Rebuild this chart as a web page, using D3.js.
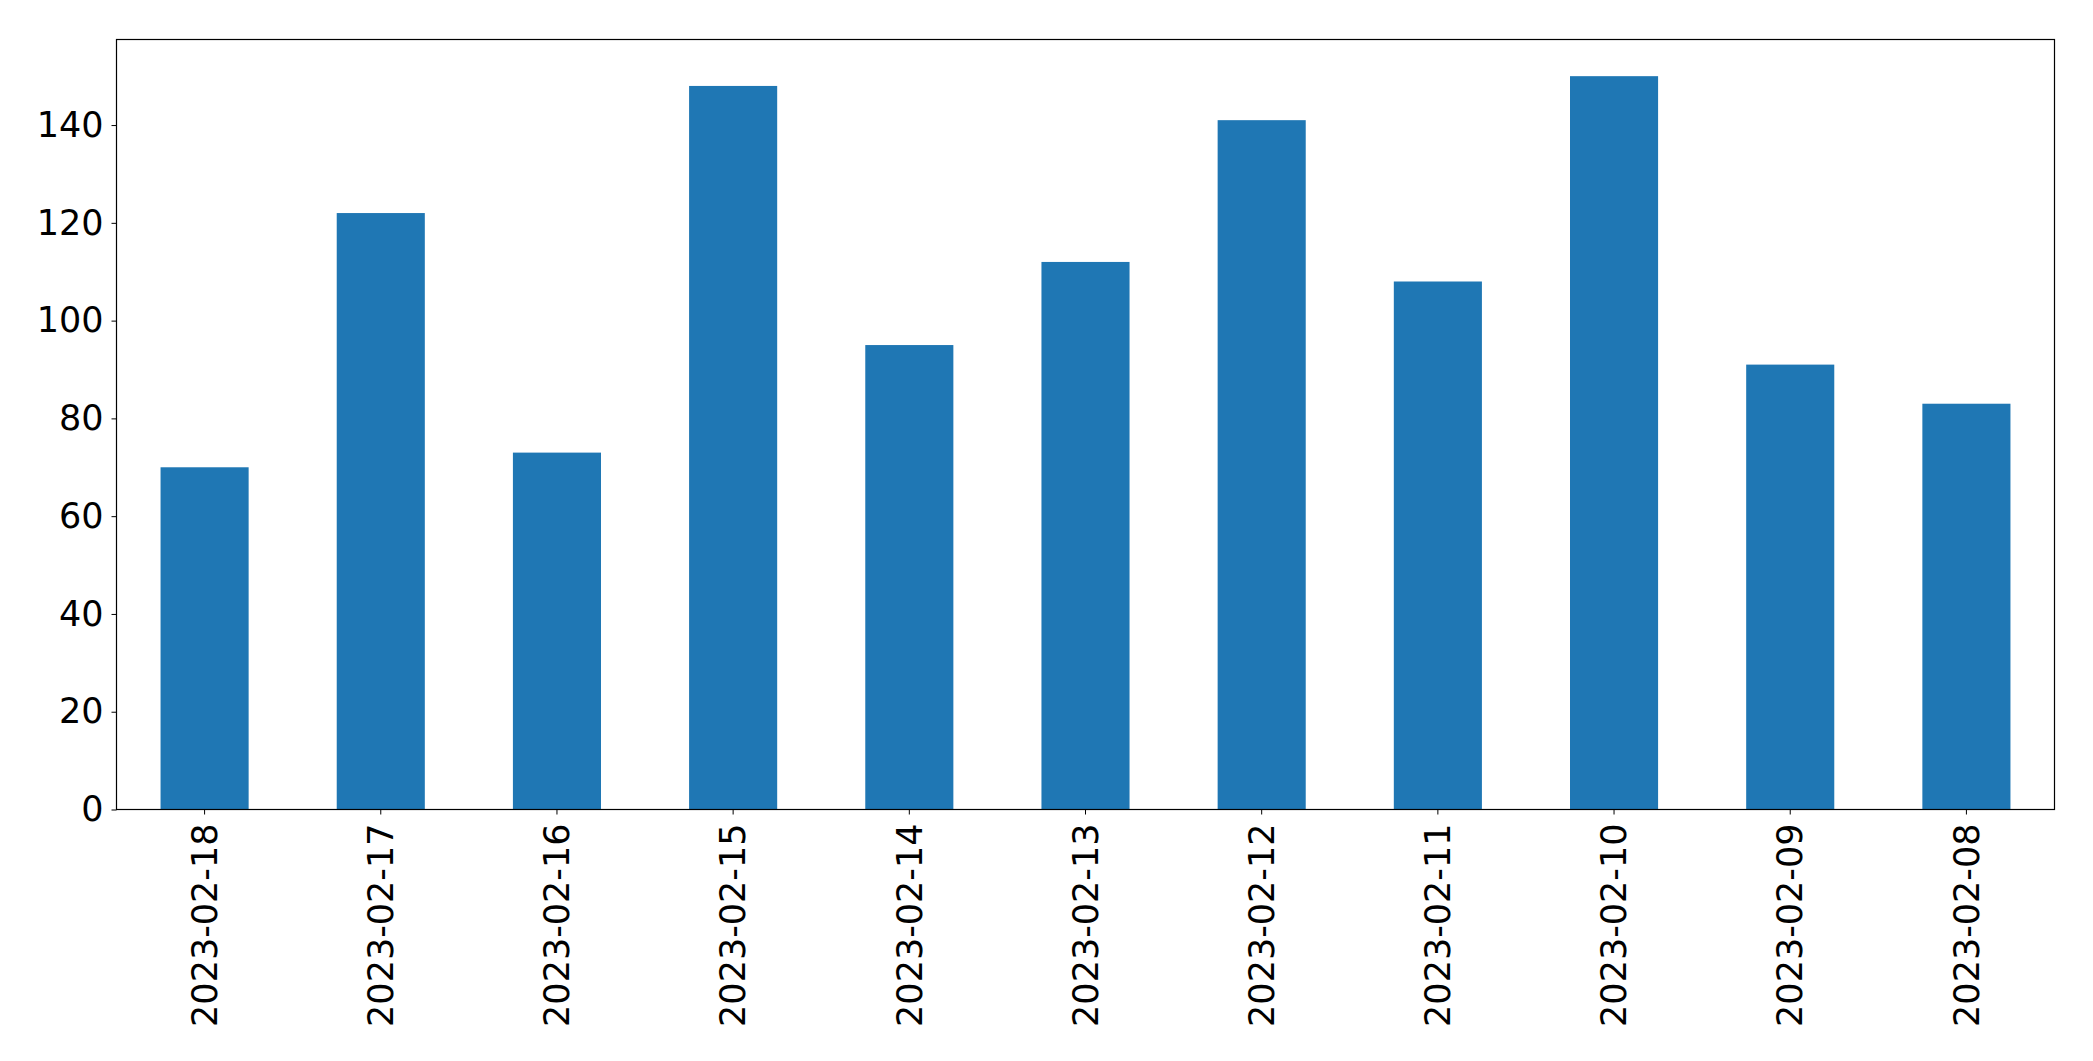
<!DOCTYPE html>
<html>
<head>
<meta charset="utf-8">
<script src="https://cdn.jsdelivr.net/npm/d3@7"></script>
<style>
  html, body { margin: 0; padding: 0; background: #fff; }
  svg { display: block; }
</style>
</head>
<body>
<svg id="chart" width="2093" height="1061"></svg>
<script>
const categories = ["2023-02-18","2023-02-17","2023-02-16","2023-02-15","2023-02-14","2023-02-13","2023-02-12","2023-02-11","2023-02-10","2023-02-09","2023-02-08"];
const values = [70, 122, 73, 148, 95, 112, 141, 108, 150, 91, 83];
const yTicks = [0, 20, 40, 60, 80, 100, 120, 140];

const W = 2093, H = 1061;
const margin = {left: 116.5, right: 2054.5, top: 39.5, bottom: 809.5};
const svg = d3.select("#chart");

const x = d3.scaleBand().domain(categories).range([margin.left, margin.right]).paddingInner(0.5).paddingOuter(0.25);
const y = d3.scaleLinear().domain([0, 157.5]).range([margin.bottom, margin.top]);

svg.append("g").selectAll("rect").data(values).join("rect")
  .attr("x", (d, i) => x(categories[i]))
  .attr("width", x.bandwidth())
  .attr("y", d => y(d))
  .attr("height", d => y(0) - y(d))
  .attr("fill", "#1f77b4");

const font = "DejaVu Sans";
const fs = 35;

const xAxis = svg.append("g").attr("transform", `translate(0,${margin.bottom})`)
  .call(d3.axisBottom(x).tickSize(5).tickSizeOuter(0).tickPadding(0));
xAxis.select(".domain").remove();
xAxis.selectAll(".tick line").attr("stroke", "#000").attr("stroke-width", 1);
xAxis.selectAll(".tick text")
  .attr("font-family", font).attr("font-size", fs).attr("fill", "#000")
  .attr("transform", "rotate(-90)")
  .attr("text-anchor", "end")
  .attr("x", -14).attr("y", 0).attr("dy", "0.35em");

const yAxis = svg.append("g").attr("transform", `translate(${margin.left},0)`)
  .call(d3.axisLeft(y).tickValues(yTicks).tickSize(5).tickSizeOuter(0).tickPadding(8));
yAxis.select(".domain").remove();
yAxis.selectAll(".tick line").attr("stroke", "#000").attr("stroke-width", 1);
yAxis.selectAll(".tick text")
  .attr("font-family", font).attr("font-size", fs).attr("fill", "#000");

svg.append("rect")
  .attr("x", margin.left).attr("y", margin.top)
  .attr("width", margin.right - margin.left)
  .attr("height", margin.bottom - margin.top)
  .attr("fill", "none").attr("stroke", "#000").attr("stroke-width", 1.2);
</script>
</body>
</html>
